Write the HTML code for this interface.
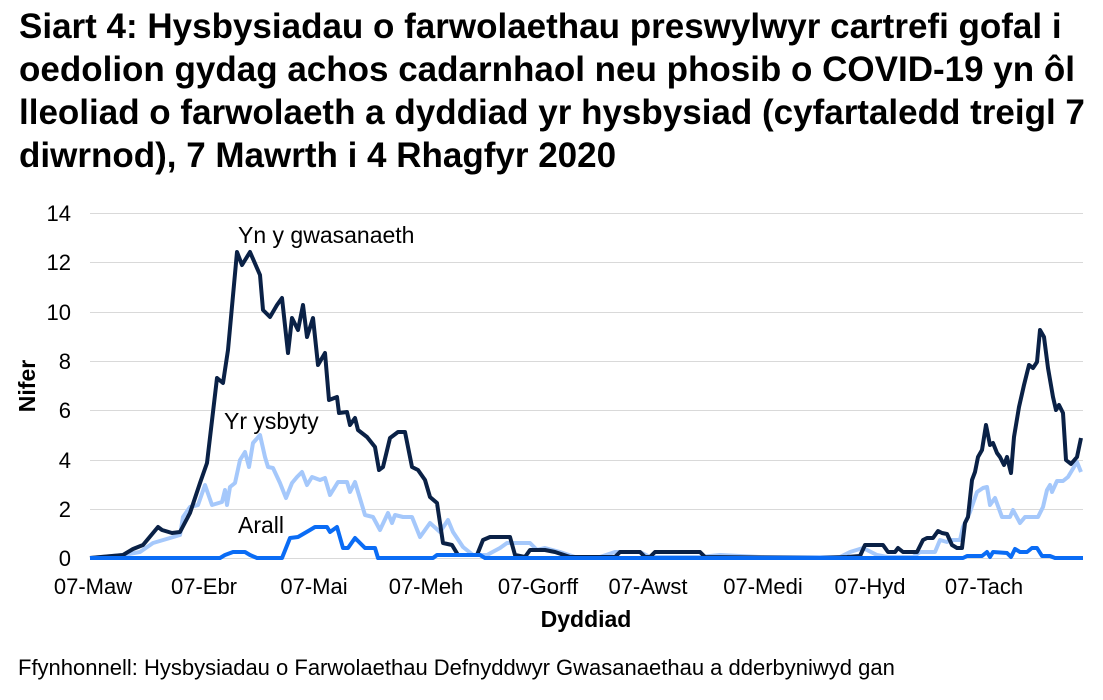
<!DOCTYPE html>
<html><head><meta charset="utf-8"><style>
body{margin:0;background:#fff;width:1103px;height:695px;overflow:hidden;font-family:"Liberation Sans",sans-serif}
</style></head><body>
<svg width="1103" height="695" xmlns="http://www.w3.org/2000/svg" font-family="Liberation Sans, sans-serif">
<g font-size="35" font-weight="bold" fill="#000">
<text x="19" y="38">Siart 4: Hysbysiadau o farwolaethau preswylwyr cartrefi gofal i</text>
<text x="19" y="81">oedolion gydag achos cadarnhaol neu phosib o COVID-19 yn ôl</text>
<text x="19" y="124">lleoliad o farwolaeth a dyddiad yr hysbysiad (cyfartaledd treigl 7</text>
<text x="19" y="167">diwrnod), 7 Mawrth i 4 Rhagfyr 2020</text>
</g>
<g stroke="#d9d9d9" stroke-width="1">
<line x1="90" x2="1083" y1="213.5" y2="213.5"/><line x1="90" x2="1083" y1="262.5" y2="262.5"/>
<line x1="90" x2="1083" y1="312.5" y2="312.5"/><line x1="90" x2="1083" y1="361.5" y2="361.5"/>
<line x1="90" x2="1083" y1="410.5" y2="410.5"/><line x1="90" x2="1083" y1="460.5" y2="460.5"/>
<line x1="90" x2="1083" y1="509.5" y2="509.5"/><line x1="90" x2="1083" y1="558.5" y2="558.5"/>
</g>
<g font-size="22" text-anchor="end" fill="#000">
<text x="71" y="221">14</text><text x="71" y="270">12</text><text x="71" y="320">10</text>
<text x="71" y="369">8</text><text x="71" y="418">6</text><text x="71" y="468">4</text>
<text x="71" y="517">2</text><text x="71" y="566">0</text>
</g>
<g font-size="22" text-anchor="middle" fill="#000">
<text x="93" y="594">07-Maw</text><text x="204" y="594">07-Ebr</text><text x="314" y="594">07-Mai</text>
<text x="426" y="594">07-Meh</text><text x="538" y="594">07-Gorff</text><text x="648" y="594">07-Awst</text>
<text x="763" y="594">07-Medi</text><text x="870" y="594">07-Hyd</text><text x="984" y="594">07-Tach</text>
</g>
<text x="586" y="627" font-size="23" font-weight="bold" text-anchor="middle">Dyddiad</text>
<text transform="translate(35,386) rotate(-90)" font-size="23" font-weight="bold" text-anchor="middle">Nifer</text>
<text x="18" y="675" font-size="22">Ffynhonnell: Hysbysiadau o Farwolaethau Defnyddwyr Gwasanaethau a dderbyniwyd gan</text>
<g font-size="23" fill="#000">
<text x="238" y="243">Yn y gwasanaeth</text>
<text x="224" y="429">Yr ysbyty</text>
<text x="238" y="533">Arall</text>
</g>
<g fill="none" stroke-width="4" stroke-linejoin="round">
<polyline stroke="#a5c8fb" points="90,558 123,555 140,552 153,543 170,538 180,535 183,517 190,507 198,505 205,485 212,505 222,502 225,490 227,505 230,487 235,483 240,460 245,452 249,467 253,443 260,435 265,457 268,467 273,468 280,483 286,498 292,483 297,477 302,472 307,485 312,477 320,480 325,478 330,495 338,482 347,482 350,492 355,482 365,515 373,517 380,530 388,513 392,523 395,515 403,517 412,517 420,537 430,523 440,532 448,520 453,532 463,547 473,555 487,555 500,548 507,543 530,543 537,550 545,548 560,552 575,557 600,557 615,552 640,552 650,557 700,557 720,555 760,557 820,557 840,557 850,552 863,548 877,555 887,557 913,557 920,552 935,552 940,540 947,542 950,540 960,540 963,527 970,512 977,492 983,488 987,487 990,505 995,498 1002,517 1010,517 1013,510 1020,523 1025,517 1038,517 1043,507 1047,490 1050,485 1052,492 1057,481 1063,481 1068,477 1077,462 1081,472"/>
<polyline stroke="#0a2146" points="90,558 123,555 133,549 143,545 158,527 162,530 172,533 180,532 190,513 200,483 207,463 217,378 223,383 228,350 237,252 242,265 250,252 260,275 263,310 270,317 277,305 282,298 288,353 292,318 298,330 303,305 307,337 313,318 318,365 325,353 329,400 337,397 339,413 347,412 350,425 355,418 358,430 367,437 375,447 379,470 383,467 390,438 398,432 405,432 412,467 418,470 425,480 430,497 437,503 443,543 452,545 458,555 477,555 483,540 490,537 510,537 515,555 525,557 530,550 545,550 555,552 570,557 615,557 620,552 640,552 645,557 650,557 655,552 700,552 705,557 820,558 847,557 860,556 865,545 883,545 888,552 895,552 898,548 903,552 917,552 923,540 927,538 933,538 938,531 942,533 947,534 952,545 957,548 962,548 965,523 968,517 972,480 975,472 978,457 982,450 986,425 990,445 993,443 997,453 1000,457 1004,465 1007,457 1011,473 1014,437 1019,407 1024,385 1029,365 1033,368 1037,362 1040,330 1044,337 1048,368 1053,397 1056,410 1059,405 1063,413 1066,460 1071,464 1077,457 1081,438"/>
<polyline stroke="#0a6cf5" points="90,558 220,558 225,555 233,552 245,552 250,555 257,558 282,558 290,538 298,537 310,530 315,527 327,527 330,532 337,527 343,548 348,548 355,538 365,548 375,548 378,558 433,558 437,555 480,555 485,558 963,558 967,556 982,556 987,552 990,557 993,552 1007,553 1011,557 1015,549 1020,552 1027,552 1032,548 1037,548 1042,556 1050,556 1055,558 1083,558"/>
</g>
</svg>
</body></html>
